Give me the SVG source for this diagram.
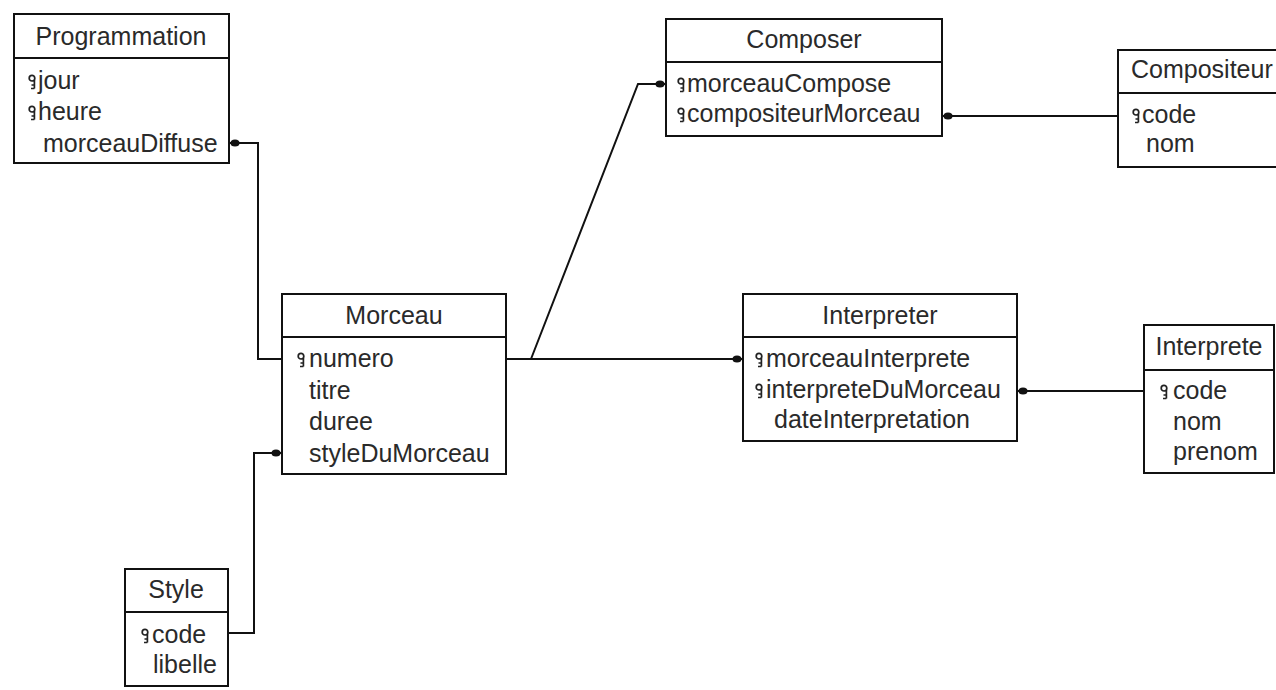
<svg xmlns="http://www.w3.org/2000/svg" width="1276" height="690" viewBox="0 0 1276 690">
<style>
.box{fill:#fff;stroke:#111;stroke-width:2}
.div{stroke:#111;stroke-width:2}
.t{font-family:"Liberation Sans",Arial,sans-serif;font-size:25px;fill:#2a2a2a}
.c{text-anchor:middle}
.ln{fill:none;stroke:#111;stroke-width:2}
.dot{fill:#111}
</style>
<defs>
<symbol id="key" viewBox="0 0 10 14" width="10" height="14" overflow="visible">
<circle cx="4" cy="3.2" r="2.8" fill="none" stroke="#222" stroke-width="1.7"/>
<path d="M6.4 5 V13.5 M6.4 13.5 H3 M6.4 10 H3.5" fill="none" stroke="#222" stroke-width="1.7"/>
</symbol>
</defs>
<rect width="1276" height="690" fill="#fff"/>

<g id="connectors">
<path class="ln" d="M229 143 H258 V359 H282"/>
<ellipse class="dot" cx="235" cy="143" rx="4.5" ry="3.5"/>
<path class="ln" d="M228 633 H254 V453 H282"/>
<ellipse class="dot" cx="276" cy="453" rx="4.5" ry="3.5"/>
<path class="ln" d="M506 359 H743"/>
<ellipse class="dot" cx="737" cy="359" rx="4.5" ry="3.5"/>
<path class="ln" d="M531 359 L638 84 H666"/>
<ellipse class="dot" cx="660" cy="84" rx="4.5" ry="3.5"/>
<path class="ln" d="M942 116 H1118"/>
<ellipse class="dot" cx="948" cy="116" rx="4.5" ry="3.5"/>
<path class="ln" d="M1017 391 H1144"/>
<ellipse class="dot" cx="1023" cy="391" rx="4.5" ry="3.5"/>
</g>

<g id="programmation">
<rect class="box" x="14" y="14" width="215" height="149"/>
<line class="div" x1="14" y1="58" x2="229" y2="58"/>
<text class="t c" x="121" y="45">Programmation</text>
<use href="#key" x="28" y="75"/>
<text class="t" x="38" y="89">jour</text>
<use href="#key" x="28" y="106"/>
<text class="t" x="38" y="120">heure</text>
<text class="t" x="43" y="152">morceauDiffuse</text>
</g>

<g id="morceau">
<rect class="box" x="282" y="294" width="224" height="180"/>
<line class="div" x1="282" y1="337" x2="506" y2="337"/>
<text class="t c" x="394" y="324">Morceau</text>
<use href="#key" x="297" y="353"/>
<text class="t" x="309" y="367">numero</text>
<text class="t" x="309" y="399">titre</text>
<text class="t" x="309" y="430">duree</text>
<text class="t" x="309" y="462">styleDuMorceau</text>
</g>

<g id="composer">
<rect class="box" x="666" y="19" width="276" height="117"/>
<line class="div" x1="666" y1="62" x2="942" y2="62"/>
<text class="t c" x="804" y="48">Composer</text>
<use href="#key" x="677" y="78"/>
<text class="t" x="687" y="92">morceauCompose</text>
<use href="#key" x="677" y="108"/>
<text class="t" x="687" y="122">compositeurMorceau</text>
</g>

<g id="compositeur">
<rect class="box" x="1118" y="50" width="170" height="117"/>
<line class="div" x1="1118" y1="93" x2="1288" y2="93"/>
<text class="t" x="1131" y="78">Compositeur</text>
<use href="#key" x="1132" y="109"/>
<text class="t" x="1142" y="123">code</text>
<text class="t" x="1146" y="152">nom</text>
</g>

<g id="interpreter">
<rect class="box" x="743" y="294" width="274" height="147"/>
<line class="div" x1="743" y1="337" x2="1017" y2="337"/>
<text class="t c" x="880" y="324">Interpreter</text>
<use href="#key" x="755" y="353"/>
<text class="t" x="766" y="367">morceauInterprete</text>
<use href="#key" x="755" y="384"/>
<text class="t" x="766" y="398">interpreteDuMorceau</text>
<text class="t" x="774" y="428">dateInterpretation</text>
</g>

<g id="interprete">
<rect class="box" x="1144" y="325" width="130" height="148"/>
<line class="div" x1="1144" y1="370" x2="1274" y2="370"/>
<text class="t c" x="1209" y="355">Interprete</text>
<use href="#key" x="1160" y="385"/>
<text class="t" x="1173" y="399">code</text>
<text class="t" x="1173" y="430">nom</text>
<text class="t" x="1173" y="460">prenom</text>
</g>

<g id="style">
<rect class="box" x="125" y="569" width="103" height="117"/>
<line class="div" x1="125" y1="612" x2="228" y2="612"/>
<text class="t c" x="176" y="598">Style</text>
<use href="#key" x="141" y="629"/>
<text class="t" x="152" y="643">code</text>
<text class="t" x="153" y="673">libelle</text>
</g>
</svg>
